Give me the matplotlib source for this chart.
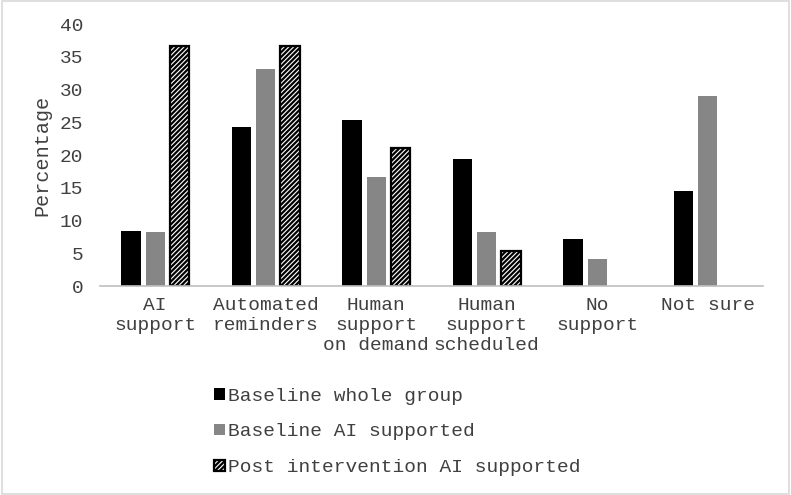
import numpy as np
import matplotlib
matplotlib.use("Agg")
import matplotlib.pyplot as plt
from matplotlib.patches import Rectangle

categories = ["AI\nsupport", "Automated\nreminders", "Human\nsupport\non demand",
              "Human\nsupport\nscheduled", "No\nsupport", "Not sure"]
baseline_whole = [8.4, 24.2, 25.4, 19.4, 7.2, 14.5]
baseline_ai = [8.2, 33.1, 16.6, 8.2, 4.1, 29.0]
post_ai = [36.7, 36.7, 21.0, 5.3, 0, 0]
labels = ["Baseline whole group", "Baseline AI supported", "Post intervention AI supported"]

plt.rcParams['font.family'] = ['Liberation Mono', 'DejaVu Sans']
plt.rcParams['hatch.linewidth'] = 1.6
fs = 14

fig = plt.figure(figsize=(7.91, 4.95), dpi=100)
ax = fig.add_axes([0.1264, 0.4222, 0.8382, 0.5293])

x = np.arange(len(categories))
w = 0.176
off = 0.22
b1 = ax.bar(x - off, baseline_whole, w, color='black', label=labels[0])
b2 = ax.bar(x, baseline_ai, w, color='#868686', label=labels[1])
b3 = ax.bar(x + off, post_ai, w, color='white', edgecolor='black', hatch='///////',
            linewidth=1.6, label=labels[2])
# hide zero-height hatched bars
for r, v in zip(b3, post_ai):
    if v == 0:
        r.set_visible(False)

ax.set_xlim(-0.5, len(categories) - 0.5)
ax.set_ylim(0, 40)
ax.set_yticks(range(0, 41, 5))
ax.set_xticks(x)
ax.set_xticklabels(categories, fontsize=fs, linespacing=1.22, color='#404040')
ax.tick_params(axis='y', labelsize=fs, length=0, pad=12, labelcolor='#404040')
ax.tick_params(axis='x', length=0, pad=8)
for s in ['top', 'right', 'left']:
    ax.spines[s].set_visible(False)
ax.spines['bottom'].set_color('#bfbfbf')
ax.spines['bottom'].set_linewidth(1.2)

fig.text(0.053, 0.6869, "Percentage", rotation=90, fontsize=fs + 0.5, color='#404040',
         ha='center', va='center')

leg = fig.legend(handles=[b1, b2, b3], labels=labels, loc='upper left',
                 bbox_to_anchor=(0.249, 0.252), bbox_transform=fig.transFigure,
                 frameon=False, fontsize=fs, handlelength=0.52, handleheight=0.52,
                 handletextpad=0.2, labelspacing=0.96)
for t in leg.get_texts():
    t.set_color('#404040')

fig.patches.append(Rectangle((0.002, 0.003), 0.996, 0.994, transform=fig.transFigure,
                             fill=False, edgecolor='#d9d9d9', linewidth=1.2))

fig.savefig("out.png", dpi=100)
